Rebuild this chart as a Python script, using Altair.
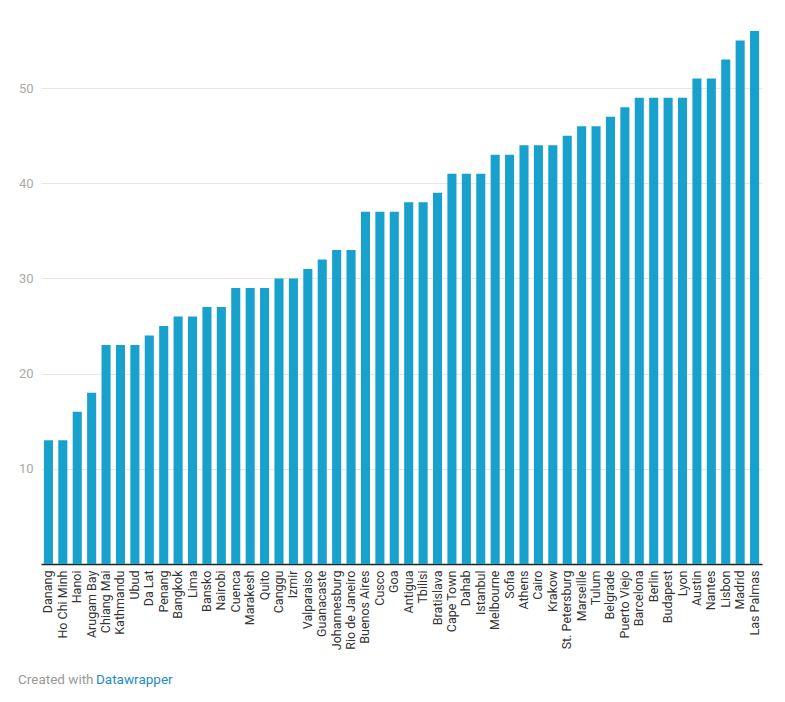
import altair as alt
import pandas as pd

cities = ["Danang", "Ho Chi Minh", "Hanoi", "Arugam Bay", "Chiang Mai", "Kathmandu", "Ubud",
          "Da Lat", "Penang", "Bangkok", "Lima", "Bansko", "Nairobi", "Cuenca", "Marakesh",
          "Quito", "Canggu", "Izmir", "Valparaiso", "Guanacaste", "Johannesburg",
          "Rio de Janeiro", "Buenos Aires", "Cusco", "Goa", "Antigua", "Tbilisi", "Bratislava",
          "Cape Town", "Dahab", "Istanbul", "Melbourne", "Sofia", "Athens", "Cairo", "Krakow",
          "St. Petersburg", "Marseille", "Tulum", "Belgrade", "Puerto Viejo", "Barcelona",
          "Berlin", "Budapest", "Lyon", "Austin", "Nantes", "Lisbon", "Madrid", "Las Palmas"]
values = [13, 13, 16, 18, 23, 23, 23, 24, 25, 26, 26, 27, 27, 29, 29, 29, 30, 30, 31, 32, 33,
          33, 37, 37, 37, 38, 38, 39, 41, 41, 41, 43, 43, 44, 44, 44, 45, 46, 46, 47, 48, 49,
          49, 49, 49, 51, 51, 53, 55, 56]
y_ticks = [10, 20, 30, 40, 50]

df = pd.DataFrame({"city": cities, "value": values})

FONT = "Roboto"
W, H = 721, 533

bars = alt.Chart(df).mark_bar(color="#18a1cd").encode(
    x=alt.X("city:N", sort=cities, title=None,
            scale=alt.Scale(paddingInner=0.37, paddingOuter=0.2),
            axis=alt.Axis(labelAngle=-90, labelAlign="right", labelBaseline="middle",
                          labelFont=FONT, labelFontSize=12.5, labelColor="#333333",
                          labelPadding=6, ticks=False, domainColor="#222222",
                          domainWidth=1.5, grid=False, labelOverlap=False)),
    y=alt.Y("value:Q", title=None,
            scale=alt.Scale(domain=[0, 56], nice=False),
            axis=alt.Axis(values=y_ticks, labelFont=FONT, labelFontSize=13,
                          labelColor="#aaaaaa", labelPadding=8, ticks=False, domain=False,
                          gridColor="#e6e6e6", gridWidth=1)),
)

foot1 = alt.Chart(pd.DataFrame({"t": ["Created with"]})).mark_text(
    align="left", baseline="alphabetic", font=FONT, fontSize=13.5, color="#999999"
).encode(text="t:N", x=alt.value(-23), y=alt.value(H + 120))

foot2 = alt.Chart(pd.DataFrame({"t": ["Datawrapper"]})).mark_text(
    align="left", baseline="alphabetic", font=FONT, fontSize=13.5, color="#1d8bc9"
).encode(text="t:N", x=alt.value(55), y=alt.value(H + 120))

chart = alt.layer(bars, foot1, foot2).properties(
    width=W, height=H,
    autosize=alt.AutoSizeParams(type="none"),
    padding={"left": 33, "top": 23, "right": 15, "bottom": 130},
).configure(background="white").configure_view(stroke=None, strokeWidth=0)

chart.save("out.html", embed_options={"renderer": "svg", "actions": False})
